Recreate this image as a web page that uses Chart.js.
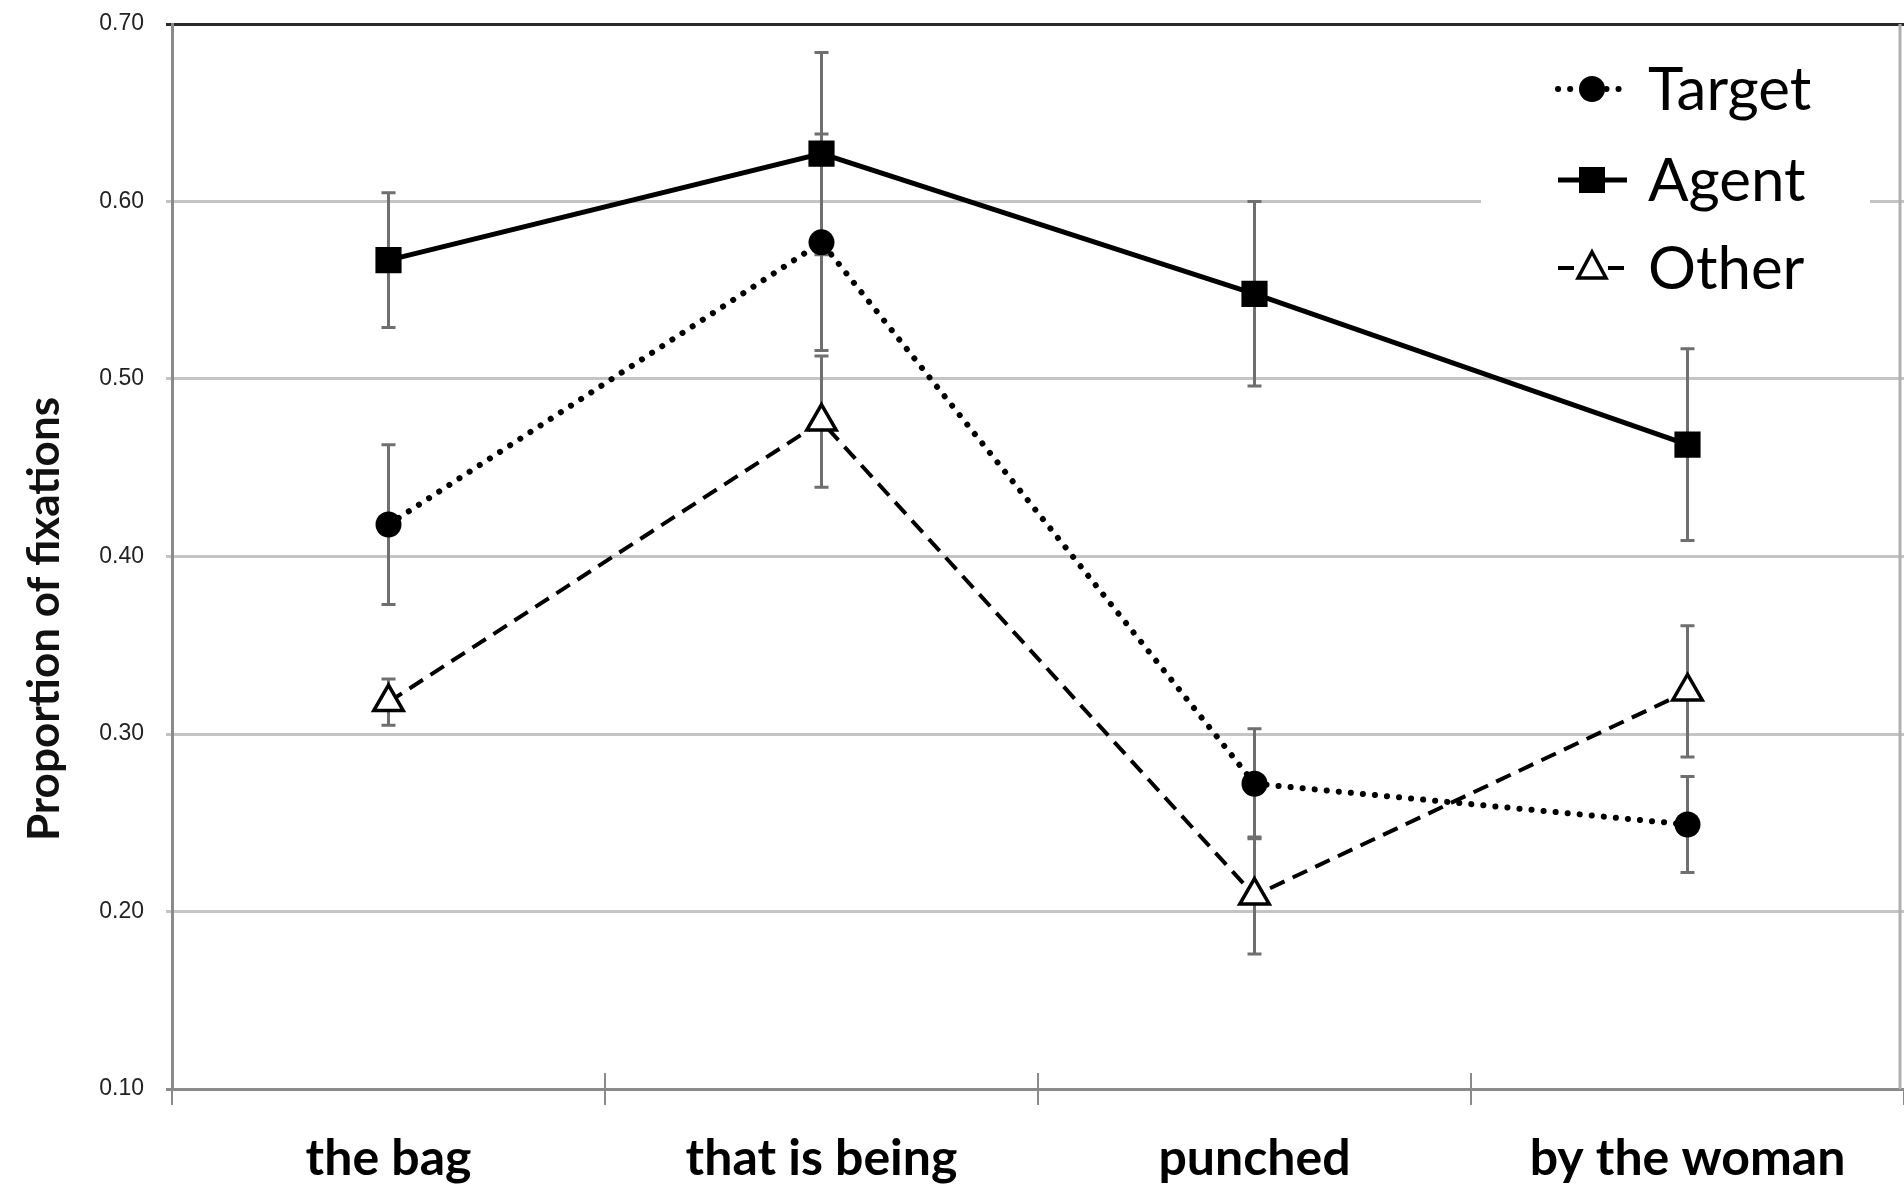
<!DOCTYPE html>
<html>
<head>
<meta charset="utf-8">
<script src="https://cdn.jsdelivr.net/npm/chart.js@4/dist/chart.umd.min.js"></script>
<style>
  html, body { margin: 0; padding: 0; background: #fff; }
  canvas { display: block; }
</style>
</head>
<body>
<canvas id="fixations" width="1904" height="1186"></canvas>
<script>
const categories = ['the bag', 'that is being', 'punched', 'by the woman'];

const target = [0.418, 0.577, 0.272, 0.249];
const targetErr = [0.045, 0.061, 0.031, 0.027];

const agent = [0.567, 0.627, 0.548, 0.463];
const agentErr = [0.038, 0.057, 0.052, 0.054];

const other = [0.318, 0.476, 0.209, 0.324];
const otherErr = [0.013, 0.037, 0.033, 0.037];

const yTicks = [0.1, 0.2, 0.3, 0.4, 0.5, 0.6, 0.7];

const yTitle = 'Proportion of fixations';

const noPadding = () => ({ left: 0, top: 0, right: 0, bottom: 0 });

// vertical error bars, drawn under the markers
const errorBars = {
  id: 'errorBars',
  beforeDatasetsDraw(chart) {
    const ctx = chart.ctx;
    const xs = chart.scales.x, ys = chart.scales.y;
    ctx.save();
    ctx.strokeStyle = '#6f6f6f';
    ctx.lineWidth = 3;
    chart.data.datasets.forEach(ds => {
      ds.values.forEach((v, i) => {
        const x = xs.getPixelForValue(i);
        const top = ys.getPixelForValue(v + ds.errors[i]);
        const bot = ys.getPixelForValue(v - ds.errors[i]);
        ctx.beginPath();
        ctx.moveTo(x, top); ctx.lineTo(x, bot);
        ctx.moveTo(x - 7, top); ctx.lineTo(x + 7, top);
        ctx.moveTo(x - 7, bot); ctx.lineTo(x + 7, bot);
        ctx.stroke();
      });
    });
    ctx.restore();
  }
};

function marker(ctx, style, x, y) {
  ctx.save();
  ctx.fillStyle = '#000';
  ctx.strokeStyle = '#000';
  ctx.setLineDash([]);
  ctx.beginPath();
  if (style === 'circle') {
    ctx.arc(x, y, 13, 0, Math.PI * 2);
    ctx.fill();
  } else if (style === 'rect') {
    ctx.rect(x - 13, y - 13, 26, 26);
    ctx.fill();
  } else {
    ctx.lineWidth = 3.5;
    ctx.moveTo(x, y - 16);
    ctx.lineTo(x + 14, y + 10);
    ctx.lineTo(x - 14, y + 10);
    ctx.closePath();
    ctx.fillStyle = '#fff';
    ctx.fill();
    ctx.stroke();
  }
  ctx.restore();
}

// frame extras, axis title and the legend box
const decorations = {
  id: 'decorations',
  afterDraw(chart) {
    const ctx = chart.ctx;
    const a = chart.chartArea;
    const xs = chart.scales.x;
    ctx.save();

    // category separators poke above the axis too
    ctx.strokeStyle = '#8a8a8a';
    ctx.lineWidth = 2;
    for (let i = 1; i < categories.length; i++) {
      const x = (xs.getPixelForValue(i - 1) + xs.getPixelForValue(i)) / 2;
      ctx.beginPath();
      ctx.moveTo(x, a.bottom - 16);
      ctx.lineTo(x, a.bottom);
      ctx.stroke();
    }

    // right edge of the frame
    ctx.strokeStyle = '#b0b0b0';
    ctx.lineWidth = 3;
    ctx.beginPath();
    ctx.moveTo(a.right - 4, a.top);
    ctx.lineTo(a.right - 4, a.bottom);
    ctx.stroke();

    // y axis title
    ctx.fillStyle = '#111';
    ctx.font = 'bold 44px Lato';
    ctx.textAlign = 'center';
    ctx.textBaseline = 'middle';
    ctx.translate(45, 619);
    ctx.rotate(-Math.PI / 2);
    ctx.fillText(yTitle, 0, 0);
    ctx.setTransform(1, 0, 0, 1, 0, 0);

    // legend
    ctx.fillStyle = '#fff';
    ctx.fillRect(1481, 40, 389, 264);
    const rows = [89, 180, 268];
    chart.data.datasets.forEach((ds, k) => {
      const y = rows[k];
      ctx.strokeStyle = '#000';
      ctx.lineWidth = ds.borderWidth;
      ctx.lineCap = ds.borderCapStyle || 'butt';
      ctx.setLineDash(ds.borderDash || []);
      ctx.beginPath();
      ctx.moveTo(1558, y);
      ctx.lineTo(1627, y);
      ctx.stroke();
      marker(ctx, ds.pointStyle, 1592, y);
      ctx.fillStyle = '#000';
      ctx.font = '60px Lato';
      ctx.textAlign = 'left';
      ctx.textBaseline = 'middle';
      ctx.fillText(ds.label, 1648, y + 2);
    });
    ctx.restore();
  }
};

const datasets = [
  {
    label: 'Target', data: target, values: target, errors: targetErr,
    borderColor: '#000', borderWidth: 6, borderDash: [0.1, 12], borderCapStyle: 'round',
    pointStyle: 'circle', pointRadius: 13, pointBackgroundColor: '#000', pointBorderWidth: 0
  },
  {
    label: 'Agent', data: agent, values: agent, errors: agentErr,
    borderColor: '#000', borderWidth: 5,
    pointStyle: 'rect', pointRadius: 18.5, pointBackgroundColor: '#000', pointBorderWidth: 0
  },
  {
    label: 'Other', data: other, values: other, errors: otherErr,
    borderColor: '#000', borderWidth: 4, borderDash: [16, 9],
    pointStyle: 'triangle', pointRadius: 17, pointBackgroundColor: '#fff',
    pointBorderColor: '#000', pointBorderWidth: 3.5
  }
];

new Chart(document.getElementById('fixations'), {
  type: 'line',
  data: { labels: categories, datasets: datasets },
  options: {
    responsive: false,
    animation: false,
    layout: { autoPadding: false, padding: { top: 24, right: 0, left: 0, bottom: 0 } },
    elements: { line: { tension: 0, fill: false } },
    plugins: { legend: { display: false }, tooltip: { enabled: false } },
    scales: {
      x: {
        offset: true,
        afterFit(s) { s.height = 97; s.getPadding = noPadding; },
        border: { color: '#8a8a8a', width: 3 },
        grid: { offset: true, drawOnChartArea: false, color: '#8a8a8a', lineWidth: 2, tickLength: 16 },
        ticks: {
          color: '#000', font: { family: 'Lato', weight: 'bold', size: 50 },
          padding: 24, maxRotation: 0, autoSkip: false
        }
      },
      y: {
        min: yTicks[0], max: yTicks[yTicks.length - 1],
        afterFit(s) { s.width = 172; s.getPadding = noPadding; },
        afterBuildTicks(s) { s.ticks = yTicks.map(v => ({ value: v })); },
        border: { color: '#8a8a8a', width: 3 },
        grid: {
          lineWidth: 3, tickLength: 6,
          color: c => c.tick.value >= 0.7 ? '#2a2a2a' : (c.tick.value <= 0.1 ? '#8a8a8a' : '#c4c4c4')
        },
        ticks: {
          color: '#222', font: { family: 'Liberation Sans', size: 23 },
          padding: 22, callback: v => Number(v).toFixed(2)
        }
      }
    }
  },
  plugins: [errorBars, decorations]
});
</script>
</body>
</html>
